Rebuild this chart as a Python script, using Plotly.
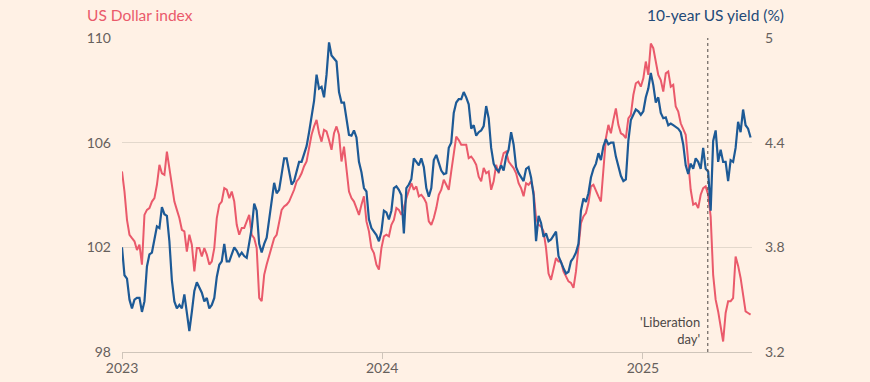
import pandas as pd
import plotly.graph_objects as go

# ---- data (readings every half-week from the reference) ----
dates = pd.date_range("2023-01-01", periods=253, freq="84h")

dollar_index = [
    104.9, 104.13, 103.05, 102.48, 102.35, 102.23, 101.9, 102.10, 101.34, 103.24,
    103.43, 103.50, 103.75, 103.88, 104.39, 105.15, 104.83, 104.77, 105.66, 105.03,
    104.33, 103.75, 103.43, 103.12, 102.67, 102.61, 101.84, 102.48, 102.10, 101.08,
    101.97, 101.97, 101.65, 101.97, 101.72, 101.34, 101.46, 101.97, 103.12, 103.63,
    103.75, 104.26, 104.2, 103.88, 104.13, 103.75, 102.86, 102.48, 102.74, 102.74,
    102.99, 103.24, 102.48, 102.35, 101.97, 100.07, 99.94, 100.95, 101.34, 101.65,
    101.97, 102.35, 102.48, 102.92, 103.43, 103.56, 103.63, 103.75, 103.95, 104.2,
    104.52, 104.64, 104.83, 105.1, 105.28, 105.79, 106.30, 106.62, 106.87, 106.36,
    106.04, 106.49, 106.43, 106.1, 105.73, 106.36, 106.62, 106.30, 105.28, 105.85,
    105.03, 104.13, 103.88, 103.75, 103.50, 103.24, 103.63, 103.95, 102.99, 102.61,
    101.97, 101.78, 101.34, 101.15, 101.97, 102.42, 102.48, 102.42, 102.86, 103.05,
    103.50, 103.43, 103.24, 103.50, 103.88, 104.2, 104.45, 104.2, 104.33, 103.95,
    104.01, 103.88, 103.69, 102.99, 102.86, 103.12, 103.5, 104.01, 104.2, 104.58,
    104.39, 104.2, 104.90, 105.66, 106.23, 106.1, 105.92, 105.92, 105.92, 105.41,
    105.47, 105.34, 105.15, 104.7, 104.52, 105.03, 104.83, 104.90, 104.2, 104.52,
    105.15, 104.83, 105.2, 105.6, 105.66, 105.28, 105.15, 105.03, 104.83, 104.45,
    104.26, 103.95, 104.45, 104.39, 104.52, 104.13, 103.12, 102.86, 102.8, 102.61,
    101.97, 101.0, 100.76, 101.21, 101.59, 101.46, 101.46, 101.08, 100.89, 100.70,
    100.64, 100.45, 101.08, 102.10, 102.92, 103.18, 103.31, 103.69, 104.33, 104.39,
    104.2, 103.95, 103.75, 105.03, 106.17, 106.68, 106.36, 106.87, 107.31, 106.68,
    106.36, 106.30, 106.17, 106.93, 107.06, 107.82, 108.27, 108.33, 108.14, 108.46,
    109.10, 108.59, 109.79, 109.61, 109.16, 108.59, 108.39, 107.95, 108.65, 108.72,
    108.14, 108.21, 107.38, 107.19, 106.74, 106.55, 106.30, 105.28, 104.2, 103.63,
    103.69, 103.5, 104.01, 104.26, 104.33, 104.01, 103.18, 100.95, 100.0, 99.55,
    98.92, 98.4, 99.49, 99.94, 99.94, 100.06, 101.65, 101.3, 100.83, 100.19,
    99.55, 99.49, 99.43,
]

us_yield_10y = [
    3.80, 3.64, 3.62, 3.50, 3.45, 3.50, 3.51, 3.51, 3.43, 3.49,
    3.69, 3.76, 3.77, 3.855, 3.92, 3.91, 4.03, 3.99, 3.98, 3.835,
    3.61, 3.49, 3.45, 3.47, 3.45, 3.53, 3.415, 3.32, 3.43, 3.55,
    3.60, 3.57, 3.54, 3.49, 3.51, 3.45, 3.47, 3.51, 3.63, 3.70,
    3.72, 3.82, 3.72, 3.72, 3.76, 3.80, 3.78, 3.75, 3.77, 3.75,
    3.74, 3.82, 3.91, 4.05, 4.01, 3.82, 3.77, 3.82, 3.855, 3.96,
    4.06, 4.17, 4.11, 4.13, 4.22, 4.31, 4.31, 4.235, 4.16, 4.18,
    4.235, 4.29, 4.29, 4.33, 4.38, 4.46, 4.55, 4.64, 4.79, 4.71,
    4.72, 4.66, 4.79, 4.975, 4.90, 4.885, 4.865, 4.69, 4.63, 4.63,
    4.54, 4.445, 4.44, 4.47, 4.43, 4.29, 4.23, 4.14, 4.12, 3.96,
    3.91, 3.89, 3.87, 3.835, 3.89, 4.01, 4.00, 3.96, 4.01, 4.14,
    4.15, 4.13, 4.10, 3.88, 4.14, 4.16, 4.19, 4.31, 4.29, 4.27,
    4.31, 4.26, 4.14, 4.09, 4.14, 4.30, 4.33, 4.29, 4.24, 4.22,
    4.225, 4.37, 4.40, 4.57, 4.63, 4.65, 4.65, 4.69, 4.66, 4.62,
    4.48, 4.50, 4.44, 4.46, 4.47, 4.495, 4.61, 4.54, 4.37, 4.28,
    4.25, 4.235, 4.27, 4.24, 4.32, 4.36, 4.46, 4.39, 4.26, 4.225,
    4.20, 4.18, 4.25, 4.26, 4.20, 4.10, 3.835, 3.98, 3.94, 3.86,
    3.88, 3.835, 3.845, 3.87, 3.89, 3.75, 3.71, 3.68, 3.65, 3.66,
    3.72, 3.74, 3.77, 3.82, 4.01, 4.08, 4.06, 4.11, 4.20, 4.25,
    4.28, 4.34, 4.30, 4.38, 4.42, 4.39, 4.40, 4.40, 4.32, 4.27,
    4.21, 4.18, 4.19, 4.41, 4.53, 4.56, 4.59, 4.58, 4.56, 4.58,
    4.66, 4.71, 4.80, 4.73, 4.63, 4.66, 4.57, 4.54, 4.545, 4.50,
    4.51, 4.50, 4.49, 4.48, 4.46, 4.39, 4.27, 4.22, 4.28, 4.25,
    4.31, 4.29, 4.25, 4.37, 4.25, 4.235, 4.01, 4.41, 4.47, 4.29,
    4.36, 4.29, 4.29, 4.18, 4.30, 4.29, 4.37, 4.52, 4.46, 4.59,
    4.50, 4.48, 4.43,
]

left_ticks = [98, 102, 106, 110]
right_ticks = [3.2, 3.8, 4.4, 5]
right_tick_text = ["3.2", "3.8", "4.4", "5"]
year_ticks = ["2023-01-01", "2024-01-01", "2025-01-01"]
year_labels = ["2023", "2024", "2025"]
liberation_day = "2025-04-02"

RED = "#EA5A6B"
BLUE = "#1D5A96"
BG = "#FFF1E5"
GRID = "#E3D8CC"
TICKC = "#66605C"
FONT = "Lato, 'Open Sans', sans-serif"

fig = go.Figure()
fig.add_trace(go.Scatter(x=dates, y=dollar_index, mode="lines",
                         line=dict(color=RED, width=2), yaxis="y",
                         hoverinfo="skip", showlegend=False))
fig.add_trace(go.Scatter(x=dates, y=us_yield_10y, mode="lines",
                         line=dict(color=BLUE, width=2.2), yaxis="y2",
                         hoverinfo="skip", showlegend=False))

fig.add_shape(type="line", xref="x", yref="paper",
              x0=liberation_day, x1=liberation_day, y0=0, y1=1,
              line=dict(color="#4D4845", width=1, dash="dot"))

fig.add_annotation(x=liberation_day, y=98, xref="x", yref="y",
                   text="'Liberation<br>day'", showarrow=False,
                   xanchor="right", yanchor="bottom", align="right",
                   xshift=-6, yshift=3,
                   font=dict(family=FONT, size=13, color="#4D4845"))

fig.add_annotation(x=-0.059, y=1.074, xref="paper", yref="paper",
                   text="US Dollar index", showarrow=False,
                   xanchor="left", yanchor="middle",
                   font=dict(family=FONT, size=15.5, color=RED))
fig.add_annotation(x=1.054, y=1.074, xref="paper", yref="paper",
                   text="10-year US yield (%)", showarrow=False,
                   xanchor="right", yanchor="middle",
                   font=dict(family=FONT, size=15.5, color="#234A78"))

fig.update_layout(
    width=870, height=382,
    margin=dict(l=122, r=118, t=38, b=30, autoexpand=False),
    paper_bgcolor=BG, plot_bgcolor=BG,
    font=dict(family=FONT, size=14, color=TICKC),
    xaxis=dict(range=["2023-01-01", "2025-06-03"],
               tickvals=year_ticks, ticktext=year_labels,
               showgrid=False, zeroline=False, automargin=False,
               showline=True, linecolor="#CFC5BA", linewidth=1,
               ticks="outside", ticklen=6, tickcolor="#CFC5BA",
               ticklabelstandoff=-3,
               tickfont=dict(size=14, color=TICKC)),
    yaxis=dict(range=[98, 110], tickvals=left_ticks,
               showgrid=True, gridcolor=GRID, gridwidth=1,
               zeroline=False, showline=False, ticks="", automargin=False,
               ticklabelstandoff=10,
               tickfont=dict(size=14, color=TICKC)),
    yaxis2=dict(range=[3.2, 5], tickvals=right_ticks, ticktext=right_tick_text,
                overlaying="y", side="right", showgrid=False,
                zeroline=False, showline=False, ticks="", automargin=False,
                ticklabelstandoff=12,
                tickfont=dict(size=14, color=TICKC)),
)

fig.write_html(
    "out.html",
    config={"displayModeBar": False, "staticPlot": True},
    post_script="document.body.style.margin='0';"
                "document.body.style.background='#FFF1E5';",
)
